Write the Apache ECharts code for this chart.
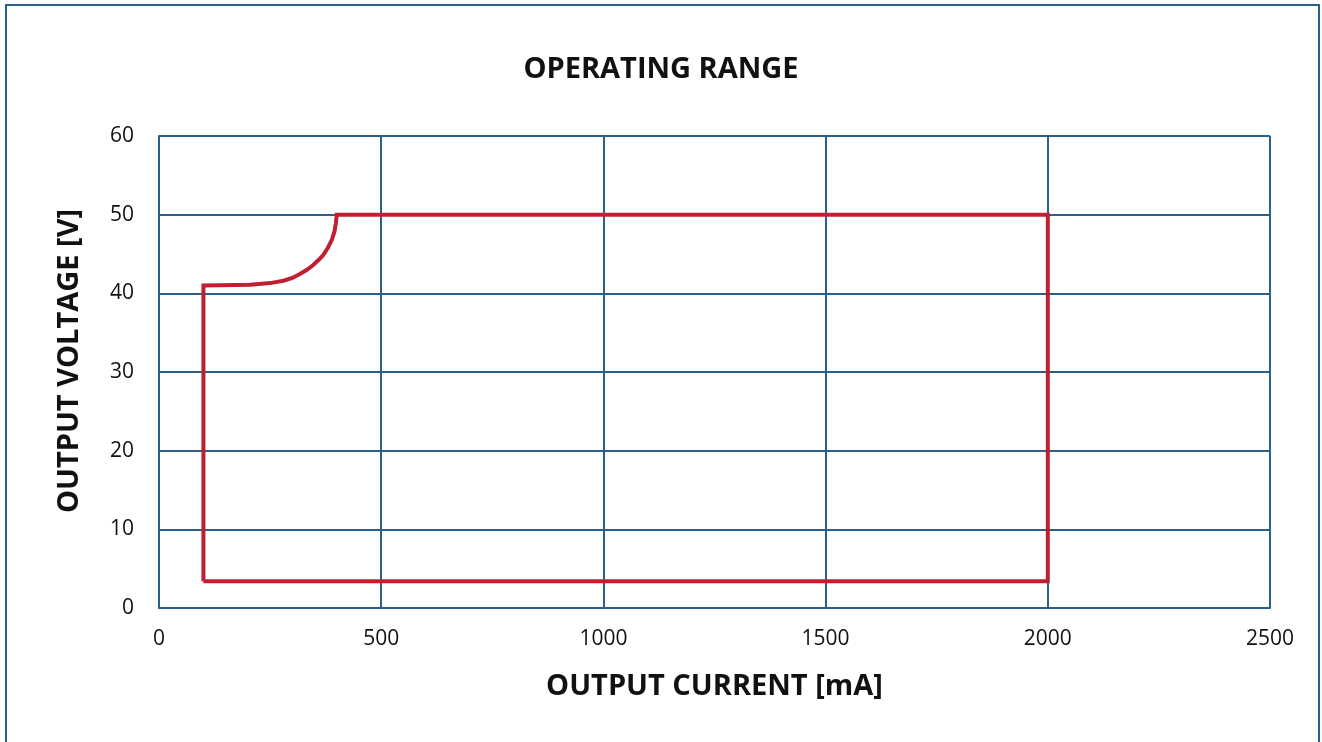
<!DOCTYPE html>
<html>
<head>
<meta charset="utf-8">
<title>Operating Range</title>
<script src="https://cdn.jsdelivr.net/npm/echarts@6/dist/echarts.min.js"></script>
<style>
  html, body { margin: 0; padding: 0; background: #fff; }
  #main { width: 1322px; height: 742px; }
</style>
</head>
<body>
<div id="main"></div>
<script>
// operating envelope: [current mA, voltage V]
const currentMA = [100, 100, 205, 250, 280, 300, 317, 333, 347, 360, 370, 380, 389, 395, 398, 400, 2000, 2000, 100];
const voltageV  = [3.4, 41, 41.1, 41.3, 41.6, 41.95, 42.45, 43, 43.6, 44.3, 44.9, 45.8, 46.8, 47.9, 48.9, 50, 50, 3.4, 3.4];
const xTicks = [0, 500, 1000, 1500, 2000, 2500];
const yTicks = [0, 10, 20, 30, 40, 50, 60];

const blue = '#2a6089';
const font = '"Open Sans", "Noto Sans", sans-serif';

var chart = echarts.init(document.getElementById('main'));

var option = {
    animation: false,
    title: {
        text: 'OPERATING RANGE',
        left: 'center',
        top: 50,
        textStyle: { fontFamily: font, fontSize: 29, fontWeight: 'bold', color: '#111' }
    },
    graphic: [{
        type: 'rect',
        shape: { x: 6, y: 5, width: 1313, height: 800 },
        style: { fill: 'none', stroke: blue, lineWidth: 2 }
    }],
    grid: { left: 159, right: 52, top: 136, bottom: 134 },
    xAxis: {
        type: 'value',
        min: xTicks[0],
        max: xTicks[xTicks.length - 1],
        interval: 500,
        name: 'OUTPUT CURRENT [mA]',
        nameLocation: 'middle',
        nameGap: 64,
        nameTextStyle: { fontFamily: font, fontSize: 29, fontWeight: 'bold', color: '#111' },
        axisLine: { show: true, lineStyle: { color: blue, width: 2 } },
        axisTick: { show: false },
        axisLabel: {
            margin: 21, fontFamily: font, fontSize: 21, color: '#111',
            formatter: function (v) { return String(v); }
        },
        splitLine: { show: true, lineStyle: { color: blue, width: 2 } }
    },
    yAxis: {
        type: 'value',
        min: yTicks[0],
        max: yTicks[yTicks.length - 1],
        interval: 10,
        name: 'OUTPUT VOLTAGE [V]',
        nameLocation: 'middle',
        nameGap: 75,
        nameTextStyle: {
            fontFamily: font, fontSize: 29, fontWeight: 'bold', color: '#111',
            padding: [0, 0, 0, 22]
        },
        axisLine: { show: true, lineStyle: { color: blue, width: 2 } },
        axisTick: { show: false },
        axisLabel: { margin: 25, fontFamily: font, fontSize: 21, color: '#111' },
        splitLine: { show: true, lineStyle: { color: blue, width: 2 } }
    },
    series: [{
        type: 'line',
        data: currentMA.map(function (c, i) { return [c, voltageV[i]]; }),
        showSymbol: false,
        lineStyle: { color: '#c01f30', width: 4, join: 'miter' }
    }]
};

chart.setOption(option);
</script>
</body>
</html>
